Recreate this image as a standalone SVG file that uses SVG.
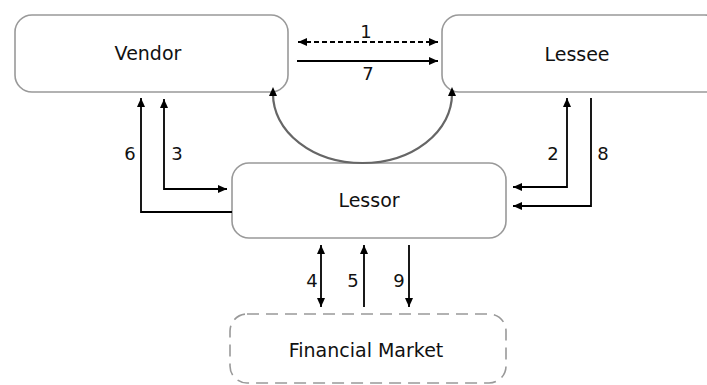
<svg xmlns="http://www.w3.org/2000/svg" width="707" height="385" viewBox="0 0 707 385">
<defs>
<style>
.box{fill:#fff;stroke:#999;stroke-width:1.6}
.dbox{fill:#fff;stroke:#999;stroke-width:1.6;stroke-dasharray:12 7}
.lbl{font-family:"DejaVu Sans",Verdana,sans-serif;font-size:19px;fill:#111;text-anchor:middle}
.num{font-family:"DejaVu Sans",Verdana,sans-serif;font-size:18px;fill:#111;text-anchor:middle}
.ar{fill:none;stroke:#000;stroke-width:1.8}
.dash{stroke-dasharray:5 3}
.curve{fill:none;stroke:#666;stroke-width:2.2}
.tip{stroke:none}
</style>
<marker id="ah" markerUnits="userSpaceOnUse" markerWidth="10" markerHeight="10" refX="9" refY="5" orient="auto-start-reverse">
<path d="M0,1 L9,5 L0,9 z" fill="#000"/>
</marker>
</defs>
<g id="vendor">
<rect class="box" x="15" y="15" width="273" height="77" rx="17" ry="17"/>
<text class="lbl" x="148" y="60">Vendor</text>
</g>
<g id="lessee">
<rect class="box" x="442" y="15" width="280" height="77" rx="17" ry="17"/>
<text class="lbl" x="577" y="61">Lessee</text>
</g>
<g id="lessor">
<rect class="box" x="232" y="163" width="274" height="75" rx="17" ry="17"/>
<text class="lbl" x="369" y="207">Lessor</text>
</g>
<g id="financial-market">
<rect class="dbox" x="230" y="314" width="276" height="69" rx="17" ry="17"/>
<text class="lbl" x="366" y="357">Financial Market</text>
</g>
<g id="connectors">
<path class="ar dash" d="M298,42 H438" marker-start="url(#ah)" marker-end="url(#ah)"/>
<path class="ar" d="M297,61 H438" marker-end="url(#ah)"/>
<path class="curve" d="M273,94 A89.5 69 0 0 0 452,94"/>
<path class="ar" d="M273,96 V87" marker-end="url(#ah)" style="stroke-width:0"/>
<path class="ar" d="M452,96 V87" marker-end="url(#ah)" style="stroke-width:0"/>
<path class="ar" d="M232,212 H141 V98" marker-end="url(#ah)"/>
<path class="ar" d="M164,99 V189 H227" marker-start="url(#ah)" marker-end="url(#ah)"/>
<path class="ar" d="M567,98 V187 H513" marker-start="url(#ah)" marker-end="url(#ah)"/>
<path class="ar" d="M591,98 V206 H513" marker-end="url(#ah)"/>
<path class="ar" d="M321,245 V307" marker-start="url(#ah)" marker-end="url(#ah)"/>
<path class="ar" d="M364,307 V245" marker-end="url(#ah)"/>
<path class="ar" d="M409,245 V307" marker-end="url(#ah)"/>
<text class="num" x="366" y="38">1</text>
<text class="num" x="368" y="80">7</text>
<text class="num" x="130" y="160">6</text>
<text class="num" x="177" y="160">3</text>
<text class="num" x="553" y="160">2</text>
<text class="num" x="603" y="160">8</text>
<text class="num" x="312" y="287">4</text>
<text class="num" x="353" y="287">5</text>
<text class="num" x="399" y="287">9</text>
</g>
</svg>
